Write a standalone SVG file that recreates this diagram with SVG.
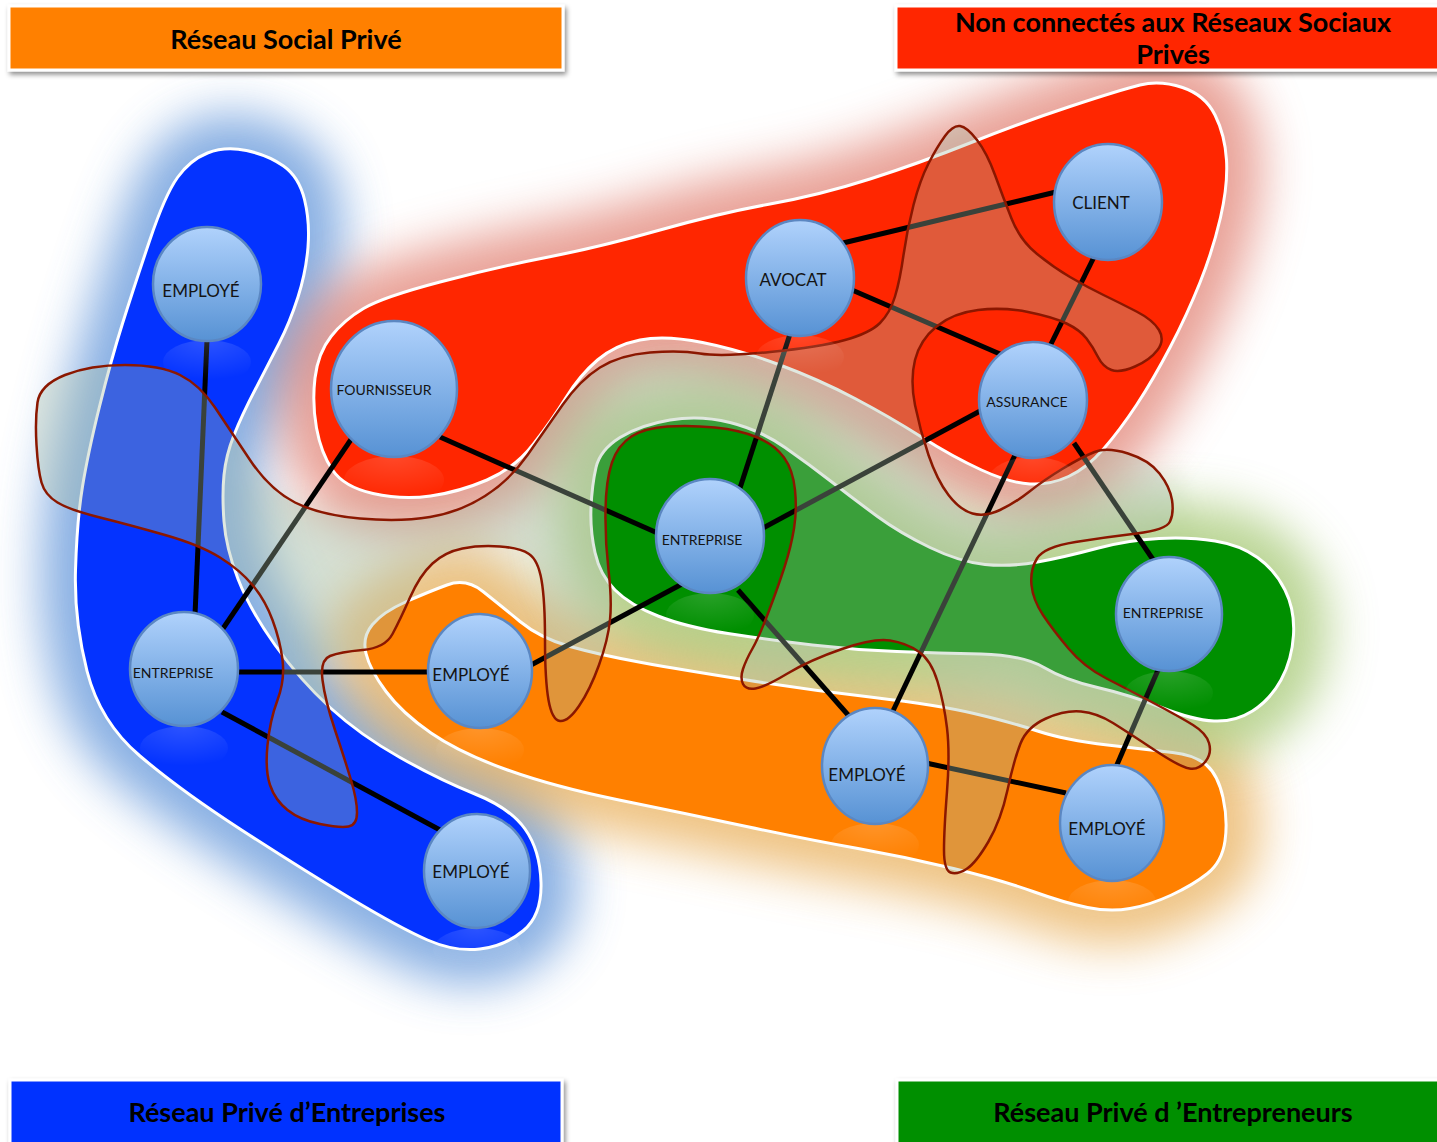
<svg xmlns="http://www.w3.org/2000/svg" width="1437" height="1142" viewBox="0 0 1437 1142">
<style>
.blob{stroke:#fff;stroke-width:3}
.glow{filter:url(#glow)}
.edges line{stroke:#000;stroke-width:5;stroke-linecap:butt}
.node ellipse.c{fill:url(#ng);stroke:#5b87c2;stroke-width:2.5}
.node ellipse.r{fill:url(#refl)}
.node text{font-family:Lato,"Open Sans","Liberation Sans",sans-serif;fill:#141414;text-anchor:middle}
.big{font-size:17px}
.small{font-size:14px}
.title rect{stroke:#fff;stroke-width:3;filter:url(#shadow)}
.title text{font-family:Lato,"Open Sans","Liberation Sans",sans-serif;font-weight:bold;font-size:27px;fill:#000;text-anchor:middle}
</style>
<defs>
<linearGradient id="ng" x1="0" y1="0" x2="0" y2="1">
<stop offset="0" stop-color="#b0d2fc"/>
<stop offset="1" stop-color="#5792d4"/>
</linearGradient>
<radialGradient id="refl" cx="0.5" cy="0" r="0.9">
<stop offset="0" stop-color="#fff" stop-opacity="0.16"/>
<stop offset="1" stop-color="#fff" stop-opacity="0"/>
</radialGradient>
<filter id="glow" x="-35%" y="-35%" width="170%" height="170%"><feGaussianBlur stdDeviation="24"/></filter>
<filter id="soft" x="-10%" y="-10%" width="120%" height="120%"><feGaussianBlur stdDeviation="10"/></filter>
<filter id="shadow" x="-5%" y="-20%" width="110%" height="160%"><feDropShadow dx="2" dy="3" stdDeviation="2.5" flood-color="#000" flood-opacity="0.45"/></filter>
<path id="pBlue" d="M 207.5,153 Q 225,146 246.5,150.5 Q 268,155 283.5,166 Q 299,177 304.5,199.5 Q 310,222 308,247 Q 306,272 298,297 Q 290,322 279,343.5 Q 268,365 255,390 Q 242,415 234,435 Q 226,455 224,475 Q 222,495 224,521.5 Q 226,548 238,579 Q 250,610 275,645 Q 300,680 330,707.5 Q 360,735 400,757.5 Q 440,780 475,794 Q 510,808 525,829 Q 540,850 541,882.5 Q 542,915 523.5,930.5 Q 505,946 480,949 Q 455,952 427.5,940 Q 400,928 350,898 Q 300,868 240,829 Q 180,790 140,756 Q 100,722 87,671 Q 74,620 75.5,570 Q 77,520 82.5,486.5 Q 88,453 99.5,406.5 Q 111,360 122.5,323.5 Q 134,287 149.5,241 Q 165,195 177.5,177.5 Q 190,160 207.5,153 Z"/>
<path id="pRed" d="M 316.5,428 Q 312,403 315,378 Q 318,353 331,336.5 Q 344,320 363.5,308.5 Q 383,297 440,282 Q 497,267 548.5,257 Q 600,247 660,230 Q 720,213 770,204 Q 820,195 870,179 Q 920,163 970,143 Q 1020,123 1070,106.5 Q 1120,90 1140,85 Q 1160,80 1182.5,87.5 Q 1205,95 1215,115 Q 1225,135 1226.5,160 Q 1228,185 1220.5,217.5 Q 1213,250 1200,282.5 Q 1187,315 1170,347.5 Q 1153,380 1136.5,405 Q 1120,430 1103.5,449 Q 1087,468 1068.5,476.5 Q 1050,485 1030,484 Q 1010,483 981.5,470 Q 953,457 921.5,437 Q 890,417 855,398.5 Q 820,380 780,365 Q 740,350 702.5,342.5 Q 665,335 640,340 Q 615,345 597.5,360 Q 580,375 566,397.5 Q 552,420 533.5,444 Q 515,468 487,480 Q 459,492 430.5,496 Q 402,500 373,493.5 Q 344,487 332.5,470 Q 321,453 316.5,428 Z"/>
<path id="pOrange" d="M 447,585 Q 466,578 483,591.5 Q 500,605 520,621.5 Q 540,638 570,646.5 Q 600,655 641.5,662.5 Q 683,670 746.5,680 Q 810,690 874,697.5 Q 938,705 974,713.5 Q 1010,722 1037.5,731 Q 1065,740 1107.5,745 Q 1150,750 1172.5,752.5 Q 1195,755 1206.5,765 Q 1218,775 1223,797.5 Q 1228,820 1225,841 Q 1222,862 1207.5,873.5 Q 1193,885 1171.5,895 Q 1150,905 1130,908.5 Q 1110,912 1087.5,907.5 Q 1065,903 1033,891.5 Q 1001,880 953.5,868.5 Q 906,857 858,848.5 Q 810,840 746.5,826.5 Q 683,813 619,800 Q 555,787 507.5,770 Q 460,753 431,733 Q 402,713 386,691.5 Q 370,670 366,653.5 Q 362,637 372.5,624.5 Q 383,612 405.5,602 Q 428,592 447,585 Z"/>
<path id="pGreen" d="M 596,467.5 Q 600,450 620,437.5 Q 640,425 670,420 Q 700,415 730,422.5 Q 760,430 785,447.5 Q 810,465 832.5,482.5 Q 855,500 877.5,516.5 Q 900,533 930,547.5 Q 960,562 985,564.5 Q 1010,567 1037.5,562 Q 1065,557 1096.5,548.5 Q 1128,540 1159,538.5 Q 1190,537 1215,541 Q 1240,545 1257.5,557.5 Q 1275,570 1285,590 Q 1295,610 1293.5,635 Q 1292,660 1281,680 Q 1270,700 1252.5,711 Q 1235,722 1214,721 Q 1193,720 1161.5,707.5 Q 1130,695 1097.5,687.5 Q 1065,680 1044,667.5 Q 1023,655 981,654 Q 939,653 897,651.5 Q 855,650 812.5,645 Q 770,640 728,633.5 Q 686,627 658,616 Q 630,605 615,590 Q 600,575 595,552.5 Q 590,530 591,507.5 Q 592,485 596,467.5 Z"/>
<path id="pSnake" d="M 37.5,402.5 Q 40,385 65,375 Q 90,365 125,365 Q 160,365 180,375 Q 200,385 215,407.5 Q 230,430 250,460 Q 270,490 295,502.5 Q 320,515 360,518.5 Q 400,522 430,517 Q 460,512 485,496 Q 510,480 527.5,455 Q 545,430 562.5,405 Q 580,380 600,367.5 Q 620,355 650,352.5 Q 680,350 700,353.5 Q 720,357 770,352 Q 820,347 845,340 Q 870,333 880,323 Q 890,313 895,296.5 Q 900,280 903.5,255 Q 907,230 913.5,205 Q 920,180 928.5,163.5 Q 937,147 945,136 Q 953,125 960,126 Q 967,127 977,140 Q 987,153 995,175 Q 1003,197 1011.5,218.5 Q 1020,240 1036.5,253.5 Q 1053,267 1070,277 Q 1087,287 1103.5,295 Q 1120,303 1136.5,311.5 Q 1153,320 1159,330 Q 1165,340 1157.5,350 Q 1150,360 1135,366.5 Q 1120,373 1111.5,370 Q 1103,367 1098,357 Q 1093,347 1086.5,338.5 Q 1080,330 1066.5,323.5 Q 1053,317 1028,312 Q 1003,307 978,310 Q 953,313 936.5,326.5 Q 920,340 915,360 Q 910,380 915,405 Q 920,430 928.5,455 Q 937,480 948.5,495 Q 960,510 972.5,513.5 Q 985,517 1000,510 Q 1015,503 1029.5,491.5 Q 1044,480 1063,468.5 Q 1082,457 1094.5,452 Q 1107,447 1128,453.5 Q 1149,460 1159.5,473.5 Q 1170,487 1172,500 Q 1174,513 1170,521.5 Q 1166,530 1136.5,533.5 Q 1107,537 1075.5,542 Q 1044,547 1037,558.5 Q 1030,570 1031.5,585 Q 1033,600 1043,615 Q 1053,630 1068.5,648.5 Q 1084,667 1106.5,678.5 Q 1129,690 1154.5,703.5 Q 1180,717 1193,725 Q 1206,733 1209,743 Q 1212,753 1205.5,761.5 Q 1199,770 1189.5,768.5 Q 1180,767 1154.5,750 Q 1129,733 1113,723 Q 1097,713 1081,711.5 Q 1065,710 1046,718.5 Q 1027,727 1020.5,743.5 Q 1014,760 1007.5,790 Q 1001,820 988.5,841.5 Q 976,863 966.5,869 Q 957,875 950.5,872.5 Q 944,870 944,850 Q 944,830 947,791.5 Q 950,753 947,728 Q 944,703 937.5,681.5 Q 931,660 918.5,651.5 Q 906,643 890,640.5 Q 874,638 842,649 Q 810,660 787.5,673.5 Q 765,687 755.5,688.5 Q 746,690 743,684 Q 740,678 743,669 Q 746,660 752.5,648.5 Q 759,637 768.5,612 Q 778,587 784.5,567 Q 791,547 794,528.5 Q 797,510 795,490 Q 793,470 784,457.5 Q 775,445 757.5,437.5 Q 740,430 715,427.5 Q 690,425 667.5,426.5 Q 645,428 631.5,436.5 Q 618,445 612,462.5 Q 606,480 605.5,510 Q 605,540 608.5,570 Q 612,600 610,620 Q 608,640 599,665 Q 590,690 579,706 Q 568,722 560,721 Q 552,720 548.5,700 Q 545,680 545,640 Q 545,600 541.5,580 Q 538,560 529,554 Q 520,548 500,546.5 Q 480,545 462.5,548.5 Q 445,552 432.5,563.5 Q 420,575 410,597.5 Q 400,620 392.5,634 Q 385,648 362.5,650 Q 340,652 330,656 Q 320,660 322.5,680 Q 325,700 335,730 Q 345,760 351,780 Q 357,800 357,812.5 Q 357,825 348.5,826.5 Q 340,828 320,824 Q 300,820 287.5,810 Q 275,800 270,785 Q 265,770 267.5,745 Q 270,720 277.5,700 Q 285,680 282.5,660 Q 280,640 272.5,620 Q 265,600 252.5,585 Q 240,570 220,557.5 Q 200,545 165,535 Q 130,525 100,517.5 Q 70,510 57.5,502.5 Q 45,495 41.5,482.5 Q 38,470 36.5,445 Q 35,420 37.5,402.5 Z"/>
</defs>

<g id="glows">
<path d="M 225,480 L 320,500 L 560,400 L 660,335 L 900,430 L 1060,480 L 1180,470 L 1200,560 L 1215,740 L 1100,730 L 950,690 L 700,660 L 520,640 L 460,580 L 380,610 L 360,660 L 300,660 L 240,600 Z" fill="#dfe8dc" opacity="0.5" filter="url(#soft)"/>
<use href="#pBlue" class="glow" fill="#6a9bdc" stroke="#6a9bdc" stroke-width="70" opacity="0.8"/>
<use href="#pRed" class="glow" fill="#e07a6c" stroke="#e07a6c" stroke-width="70" opacity="0.7"/>
<use href="#pOrange" class="glow" fill="#e8aa50" stroke="#e8aa50" stroke-width="70" opacity="0.7"/>
<use href="#pGreen" class="glow" fill="#a4c872" stroke="#a4c872" stroke-width="70" opacity="0.75"/>
</g>

<g id="blobs">
<use href="#pBlue" class="blob" fill="#0433ff"/>
<use href="#pRed" class="blob" fill="#ff2600"/>
<use href="#pOrange" class="blob" fill="#ff8000"/>
<use href="#pGreen" class="blob" fill="#008f00"/>
</g>

<g id="connectors" class="edges">
<line x1="207" y1="340" x2="195" y2="615"/>
<line x1="222" y1="630" x2="352" y2="438"/>
<line x1="236" y1="672" x2="430" y2="672"/>
<line x1="222" y1="712" x2="440" y2="830"/>
<line x1="440" y1="437" x2="662" y2="535"/>
<line x1="531" y1="665" x2="682" y2="584"/>
<line x1="740" y1="488" x2="790" y2="334"/>
<line x1="763" y1="528" x2="982" y2="410"/>
<line x1="738" y1="590" x2="849" y2="716"/>
<line x1="843" y1="243" x2="1056" y2="192"/>
<line x1="852" y1="290" x2="1000" y2="354"/>
<line x1="1094" y1="257" x2="1050" y2="346"/>
<line x1="1015" y1="455" x2="892" y2="713"/>
<line x1="1074" y1="443" x2="1154" y2="561"/>
<line x1="1158" y1="670" x2="1116" y2="767"/>
<line x1="926" y1="763" x2="1066" y2="793"/>
</g>

<g id="overlay">
<use href="#pSnake" fill="#a6bca6" fill-opacity="0.35" fill-rule="evenodd" stroke="#8b1700" stroke-width="2.5"/>
</g>

<g id="node-employe-1" class="node"><ellipse class="r" cx="207" cy="362" rx="44" ry="22"/><ellipse class="c" cx="207" cy="284" rx="54" ry="57"/><text class="big" x="201" y="297">EMPLOYÉ</text></g>
<g id="node-fournisseur" class="node"><ellipse class="r" cx="394" cy="480" rx="50" ry="24"/><ellipse class="c" cx="394" cy="389" rx="63" ry="68"/><text class="small" x="384" y="395">FOURNISSEUR</text></g>
<g id="node-entreprise-1" class="node"><ellipse class="r" cx="184" cy="748" rx="44" ry="22"/><ellipse class="c" cx="184" cy="669" rx="54" ry="57"/><text class="small" x="173" y="678">ENTREPRISE</text></g>
<g id="node-employe-2" class="node"><ellipse class="r" cx="480" cy="750" rx="44" ry="22"/><ellipse class="c" cx="480" cy="671" rx="52" ry="57"/><text class="big" x="471" y="681">EMPLOYÉ</text></g>
<g id="node-employe-3" class="node"><ellipse class="r" cx="477" cy="950" rx="44" ry="22"/><ellipse class="c" cx="477" cy="871" rx="53" ry="57"/><text class="big" x="471" y="878">EMPLOYÉ</text></g>
<g id="node-entreprise-2" class="node"><ellipse class="r" cx="710" cy="615" rx="44" ry="22"/><ellipse class="c" cx="710" cy="536" rx="54" ry="57"/><text class="small" x="702" y="545">ENTREPRISE</text></g>
<g id="node-avocat" class="node"><ellipse class="r" cx="800" cy="357" rx="44" ry="22"/><ellipse class="c" cx="800" cy="278" rx="54" ry="58"/><text class="big" x="793" y="286">AVOCAT</text></g>
<g id="node-client" class="node"><ellipse class="c" cx="1108" cy="202" rx="54" ry="58"/><text class="big" x="1101" y="209">CLIENT</text></g>
<g id="node-assurance" class="node"><ellipse class="r" cx="1033" cy="479" rx="44" ry="22"/><ellipse class="c" cx="1033" cy="400" rx="54" ry="58"/><text class="small" x="1027" y="407">ASSURANCE</text></g>
<g id="node-employe-4" class="node"><ellipse class="r" cx="875" cy="845" rx="44" ry="22"/><ellipse class="c" cx="875" cy="766" rx="53" ry="58"/><text class="big" x="867" y="781">EMPLOYÉ</text></g>
<g id="node-entreprise-3" class="node"><ellipse class="r" cx="1169" cy="693" rx="44" ry="22"/><ellipse class="c" cx="1169" cy="614" rx="53" ry="57"/><text class="small" x="1163" y="618">ENTREPRISE</text></g>
<g id="node-employe-5" class="node"><ellipse class="r" cx="1112" cy="902" rx="44" ry="22"/><ellipse class="c" cx="1112" cy="823" rx="52" ry="58"/><text class="big" x="1107" y="835">EMPLOYÉ</text></g>

<g id="title-orange" class="title"><rect x="9" y="6" width="554" height="64" fill="#ff8000"/><text x="286" y="49">Réseau Social Privé</text></g>
<g id="title-red" class="title"><rect x="896" y="6" width="545" height="64" fill="#ff2600"/><text x="1173" y="32">Non connectés aux Réseaux Sociaux</text><text x="1173" y="64">Privés</text></g>
<g id="title-blue" class="title"><rect x="10" y="1080" width="552" height="66" fill="#0433ff"/><text x="287" y="1122">Réseau Privé d’Entreprises</text></g>
<g id="title-green" class="title"><rect x="897" y="1080" width="545" height="66" fill="#008f00"/><text x="1173" y="1122">Réseau Privé d ’Entrepreneurs</text></g>
</svg>
